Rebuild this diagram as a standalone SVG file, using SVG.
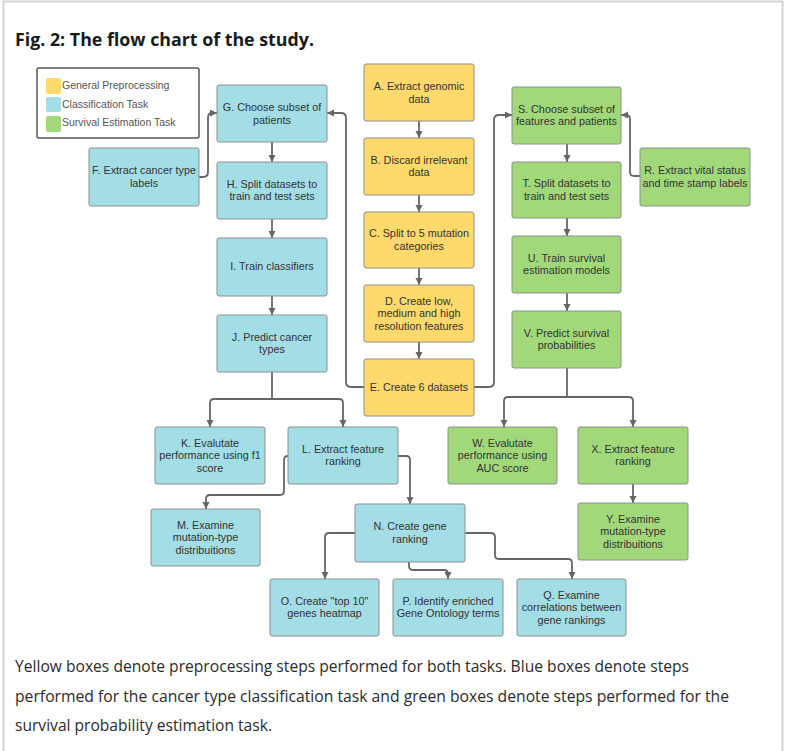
<svg xmlns="http://www.w3.org/2000/svg" width="792" height="751" viewBox="0 0 792 751">
<defs>
<style>
.bx{stroke:#8f8f8f;stroke-width:1;}
.y{fill:#FFD96B;}
.b{fill:#A3DDE6;}
.g{fill:#A1D97A;}
.t{font-family:"Liberation Sans",Arial,sans-serif;font-size:10.8px;fill:#333;text-anchor:middle;}
.lg{font-family:"Liberation Sans",Arial,sans-serif;font-size:10.5px;fill:#555;}
.c{fill:none;stroke:#666;stroke-width:1.8;}
.cap{font-family:"Open Sans","Noto Sans",sans-serif;font-size:15.5px;fill:#2b2b2b;}
</style>
<marker id="ah" markerUnits="userSpaceOnUse" markerWidth="8" markerHeight="8" refX="7" refY="3.5" orient="auto">
<path d="M0,0 L7,3.5 L0,7 z" fill="#666"/>
</marker>
</defs>
<rect width="792" height="751" fill="#fff"/>
<path d="M3.5,760 V1.5 H782.5 V760" fill="none" stroke="#d4d4d4" stroke-width="2"/>
<text x="15" y="46" font-family="'Open Sans','Noto Sans',sans-serif" font-weight="bold" font-size="18.5" fill="#1a1a1a" textLength="299" lengthAdjust="spacingAndGlyphs">Fig. 2: The flow chart of the study.</text>

<g id="legend">
<rect x="37" y="68" width="162" height="70" rx="2" fill="#fff" stroke="#555" stroke-width="1.5"/>
<rect x="46" y="78" width="15" height="16" rx="2" class="y"/>
<rect x="46" y="97" width="15" height="15" rx="2" class="b"/>
<rect x="46" y="116" width="15" height="16" rx="2" class="g"/>
<text x="62" y="88.5" class="lg">General Preprocessing</text>
<text x="62" y="107.5" class="lg">Classification Task</text>
<text x="62" y="126" class="lg">Survival Estimation Task</text>
</g>

<g id="connectors">
<path class="c" marker-end="url(#ah)" d="M419,121 V138"/>
<path class="c" marker-end="url(#ah)" d="M419,195 V212"/>
<path class="c" marker-end="url(#ah)" d="M419,268 V285"/>
<path class="c" marker-end="url(#ah)" d="M419,342 V359"/>
<path class="c" marker-end="url(#ah)" d="M364,387 H351 Q346,387 346,382 V118 Q346,113 341,113 H327"/>
<path class="c" marker-end="url(#ah)" d="M474,387 H489 Q494,387 494,382 V120 Q494,115 499,115 H512"/>
<path class="c" marker-end="url(#ah)" d="M199,177 H203 Q208,177 208,172 V118 Q208,113 212,113 H217"/>
<path class="c" marker-end="url(#ah)" d="M272,142 V162"/>
<path class="c" marker-end="url(#ah)" d="M272,219 V238"/>
<path class="c" marker-end="url(#ah)" d="M272,296 V315"/>
<path class="c" d="M272,372 V399"/>
<path class="c" marker-end="url(#ah)" d="M272,399 H214 Q210,399 210,403 V427"/>
<path class="c" marker-end="url(#ah)" d="M272,399 H339 Q343,399 343,403 V427"/>
<path class="c" marker-end="url(#ah)" d="M288,456 Q284,456 284,460 V491 Q284,495 280,495 H210 Q206,495 206,499 V509"/>
<path class="c" marker-end="url(#ah)" d="M398,456 H406 Q410,456 410,460 V504"/>
<path class="c" marker-end="url(#ah)" d="M355,533 H329 Q325,533 325,537 V579"/>
<path class="c" marker-end="url(#ah)" d="M409,562 V566 Q409,570 413,570 H444 Q448,570 448,574 V579"/>
<path class="c" marker-end="url(#ah)" d="M465,533 H491 Q495,533 495,537 V555 Q495,559 499,559 H568 Q572,559 572,563 V579"/>
<path class="c" marker-end="url(#ah)" d="M640,176 H634 Q630,176 630,172 V119 Q630,115 626,115 H621"/>
<path class="c" marker-end="url(#ah)" d="M567,144 V162"/>
<path class="c" marker-end="url(#ah)" d="M567,218 V236"/>
<path class="c" marker-end="url(#ah)" d="M567,293 V311"/>
<path class="c" d="M567,368 V397"/>
<path class="c" marker-end="url(#ah)" d="M567,397 H508 Q504,397 504,401 V427"/>
<path class="c" marker-end="url(#ah)" d="M567,397 H629 Q633,397 633,401 V427"/>
<path class="c" marker-end="url(#ah)" d="M633,484 V503"/>
</g>

<g id="A"><rect x="364" y="64" width="110" height="57" rx="2" class="bx y"/><text class="t" x="419" y="90">A. Extract genomic</text><text class="t" x="419" y="102.5">data</text></g>
<g id="B"><rect x="364" y="138" width="110" height="57" rx="2" class="bx y"/><text class="t" x="419" y="163.5">B. Discard irrelevant</text><text class="t" x="419" y="176">data</text></g>
<g id="C"><rect x="364" y="212" width="110" height="56" rx="2" class="bx y"/><text class="t" x="419" y="237">C. Split to 5 mutation</text><text class="t" x="419" y="249.5">categories</text></g>
<g id="D"><rect x="364" y="285" width="110" height="57" rx="2" class="bx y"/><text class="t" x="419" y="304.5">D. Create low,</text><text class="t" x="419" y="317">medium and high</text><text class="t" x="419" y="329.5">resolution features</text></g>
<g id="E"><rect x="364" y="359" width="110" height="57" rx="2" class="bx y"/><text class="t" x="419" y="390.5">E. Create 6 datasets</text></g>

<g id="F"><rect x="89" y="148" width="110" height="58" rx="2" class="bx b"/><text class="t" x="144" y="174">F. Extract cancer type</text><text class="t" x="144" y="186.5">labels</text></g>
<g id="G"><rect x="217" y="85" width="110" height="57" rx="2" class="bx b"/><text class="t" x="272" y="111">G. Choose subset of</text><text class="t" x="272" y="123.5">patients</text></g>
<g id="H"><rect x="217" y="162" width="110" height="57" rx="2" class="bx b"/><text class="t" x="272" y="187.5">H. Split datasets to</text><text class="t" x="272" y="200">train and test sets</text></g>
<g id="I"><rect x="217" y="238" width="110" height="58" rx="2" class="bx b"/><text class="t" x="272" y="270">I. Train classifiers</text></g>
<g id="J"><rect x="217" y="315" width="110" height="57" rx="2" class="bx b"/><text class="t" x="272" y="340.5">J. Predict cancer</text><text class="t" x="272" y="353">types</text></g>
<g id="K"><rect x="155" y="427" width="110" height="57" rx="2" class="bx b"/><text class="t" x="210" y="446.5">K. Evalutate</text><text class="t" x="210" y="459">performance using f1</text><text class="t" x="210" y="471.5">score</text></g>
<g id="L"><rect x="288" y="427" width="110" height="57" rx="2" class="bx b"/><text class="t" x="343" y="452.5">L. Extract feature</text><text class="t" x="343" y="465">ranking</text></g>
<g id="M"><rect x="151" y="509" width="109" height="57" rx="2" class="bx b"/><text class="t" x="205.5" y="528.5">M. Examine</text><text class="t" x="205.5" y="541">mutation-type</text><text class="t" x="205.5" y="553.5">distribuitions</text></g>
<g id="N"><rect x="355" y="504" width="110" height="58" rx="2" class="bx b"/><text class="t" x="410" y="530">N. Create gene</text><text class="t" x="410" y="542.5">ranking</text></g>
<g id="O"><rect x="270" y="579" width="109" height="57" rx="2" class="bx b"/><text class="t" x="324.5" y="604.5">O. Create "top 10"</text><text class="t" x="324.5" y="617">genes heatmap</text></g>
<g id="P"><rect x="393" y="579" width="110" height="57" rx="2" class="bx b"/><text class="t" x="448" y="604.5">P. Identify enriched</text><text class="t" x="448" y="617">Gene Ontology terms</text></g>
<g id="Q"><rect x="517" y="579" width="109" height="57" rx="2" class="bx b"/><text class="t" x="571.5" y="598.5">Q. Examine</text><text class="t" x="571.5" y="611">correlations between</text><text class="t" x="571.5" y="623.5">gene rankings</text></g>

<g id="R"><rect x="640" y="148" width="110" height="58" rx="2" class="bx g"/><text class="t" x="695" y="174">R. Extract vital status</text><text class="t" x="695" y="186.5">and time stamp labels</text></g>
<g id="S"><rect x="512" y="87" width="109" height="57" rx="2" class="bx g"/><text class="t" x="566.5" y="112.5">S. Choose subset of</text><text class="t" x="566.5" y="125">features and patients</text></g>
<g id="T"><rect x="512" y="162" width="109" height="56" rx="2" class="bx g"/><text class="t" x="566.5" y="187">T. Split datasets to</text><text class="t" x="566.5" y="199.5">train and test sets</text></g>
<g id="U"><rect x="512" y="236" width="109" height="57" rx="2" class="bx g"/><text class="t" x="566.5" y="261.5">U. Train survival</text><text class="t" x="566.5" y="274">estimation models</text></g>
<g id="V"><rect x="512" y="311" width="109" height="57" rx="2" class="bx g"/><text class="t" x="566.5" y="336.5">V. Predict survival</text><text class="t" x="566.5" y="349">probabilities</text></g>
<g id="W"><rect x="448" y="427" width="109" height="57" rx="2" class="bx g"/><text class="t" x="502.5" y="446.5">W. Evalutate</text><text class="t" x="502.5" y="459">performance using</text><text class="t" x="502.5" y="471.5">AUC score</text></g>
<g id="X"><rect x="578" y="427" width="110" height="57" rx="2" class="bx g"/><text class="t" x="633" y="452.5">X. Extract feature</text><text class="t" x="633" y="465">ranking</text></g>
<g id="Y"><rect x="578" y="503" width="110" height="57" rx="2" class="bx g"/><text class="t" x="633" y="522.5">Y. Examine</text><text class="t" x="633" y="535">mutation-type</text><text class="t" x="633" y="547.5">distribuitions</text></g>

<text class="cap" x="15" y="672" textLength="674" lengthAdjust="spacingAndGlyphs">Yellow boxes denote preprocessing steps performed for both tasks. Blue boxes denote steps</text>
<text class="cap" x="15" y="701.5" textLength="714" lengthAdjust="spacingAndGlyphs">performed for the cancer type classification task and green boxes denote steps performed for the</text>
<text class="cap" x="15" y="731" textLength="257" lengthAdjust="spacingAndGlyphs">survival probability estimation task.</text>
</svg>
